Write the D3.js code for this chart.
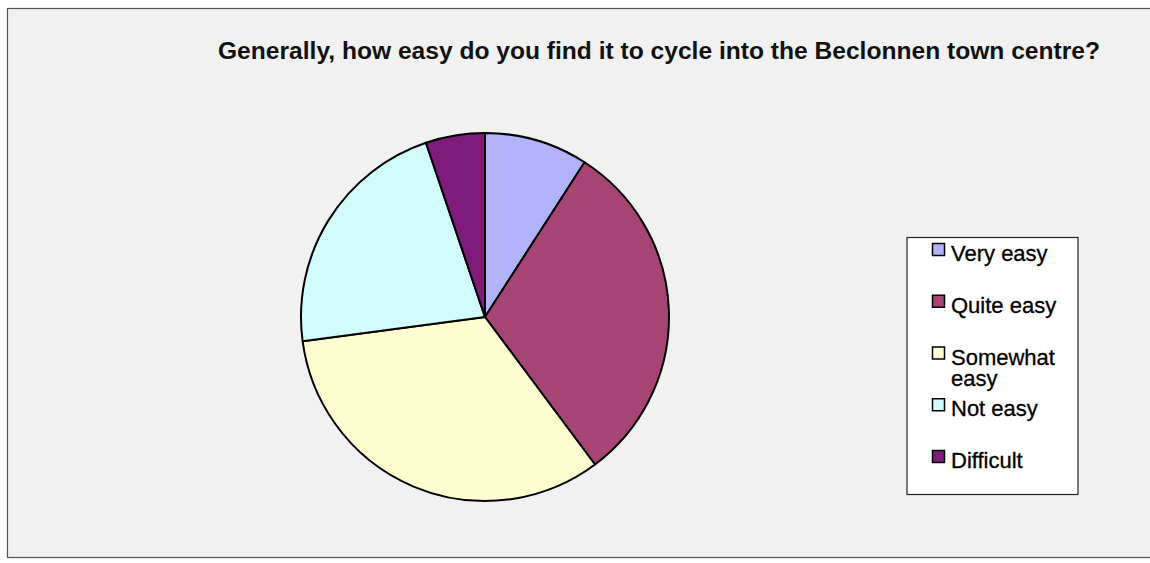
<!DOCTYPE html>
<html>
<head>
<meta charset="utf-8">
<script src="https://cdn.jsdelivr.net/npm/d3@7"></script>
<style>
  body { margin: 0; background: #fff; }
  svg { display: block; font-family: "Liberation Sans", Arial, sans-serif; }
</style>
</head>
<body>
<div id="chart"></div>
<script>
const width = 1150;
const height = 563;

// survey answers, share of respondents (%)
const categories = ["Very easy", "Quite easy", "Somewhat easy", "Not easy", "Difficult"];
const values = [9.1, 30.7, 33.1, 21.9, 5.2];
const colors = ["#b3b3fb", "#a64573", "#fdfdd0", "#d2fbfc", "#7f1b7b"];
const title = "Generally, how easy do you find it to cycle into the Beclonnen town centre?";

const data = categories.map((c, i) => ({ name: c, value: values[i] }));

const svg = d3.select("#chart")
  .append("svg")
  .attr("width", width)
  .attr("height", height);

// chart area frame
svg.append("rect")
  .attr("x", 7.5)
  .attr("y", 8.5)
  .attr("width", width)
  .attr("height", 549)
  .attr("fill", "#f1f1f1")
  .attr("stroke", "#555")
  .attr("stroke-width", 1.2);

svg.append("text")
  .attr("x", 659)
  .attr("y", 59)
  .attr("text-anchor", "middle")
  .attr("textLength", 882)
  .attr("lengthAdjust", "spacingAndGlyphs")
  .style("font-size", "23px")
  .style("font-weight", "bold")
  .style("fill", "#111")
  .text(title);

const color = d3.scaleOrdinal().domain(categories).range(colors);

const pie = d3.pie().sort(null).value(d => d.value);
const arc = d3.arc().innerRadius(0).outerRadius(184);

const g = svg.append("g").attr("transform", "translate(485,317)");

g.selectAll("path")
  .data(pie(data))
  .enter()
  .append("path")
  .attr("d", arc)
  .attr("fill", d => color(d.data.name))
  .attr("stroke", "#000")
  .attr("stroke-width", 2)
  .attr("stroke-linejoin", "round");

// legend
const legend = svg.append("g").attr("id", "legend");

legend.append("rect")
  .attr("x", 907)
  .attr("y", 237.5)
  .attr("width", 171)
  .attr("height", 257)
  .attr("fill", "#fff")
  .attr("stroke", "#222")
  .attr("stroke-width", 1.2);

const rowY = d3.scalePoint().domain(categories).range([253, 460]);

const items = legend.selectAll(".item")
  .data(categories)
  .enter()
  .append("g")
  .attr("class", "item")
  .attr("transform", d => "translate(0," + rowY(d) + ")");

items.append("rect")
  .attr("x", 932.5)
  .attr("y", -9.5)
  .attr("width", 12)
  .attr("height", 12)
  .attr("fill", d => color(d))
  .attr("stroke", "#000")
  .attr("stroke-width", 1.5);

items.append("text")
  .attr("x", 951)
  .attr("y", 8)
  .style("font-size", "22px")
  .style("fill", "#000")
  .style("stroke", "#000")
  .style("stroke-width", 0.3)
  .each(function(d) {
    // wrap long labels like Excel does
    const t = d3.select(this);
    const words = d.split(" ");
    let line = [];
    let tspan = t.append("tspan").attr("x", 951).attr("dy", 0);
    words.forEach(w => {
      line.push(w);
      tspan.text(line.join(" "));
      if (tspan.node().getComputedTextLength() > 120 && line.length > 1) {
        line.pop();
        tspan.text(line.join(" "));
        line = [w];
        tspan = t.append("tspan").attr("x", 951).attr("dy", 21).text(w);
      }
    });
  });
</script>
</body>
</html>
